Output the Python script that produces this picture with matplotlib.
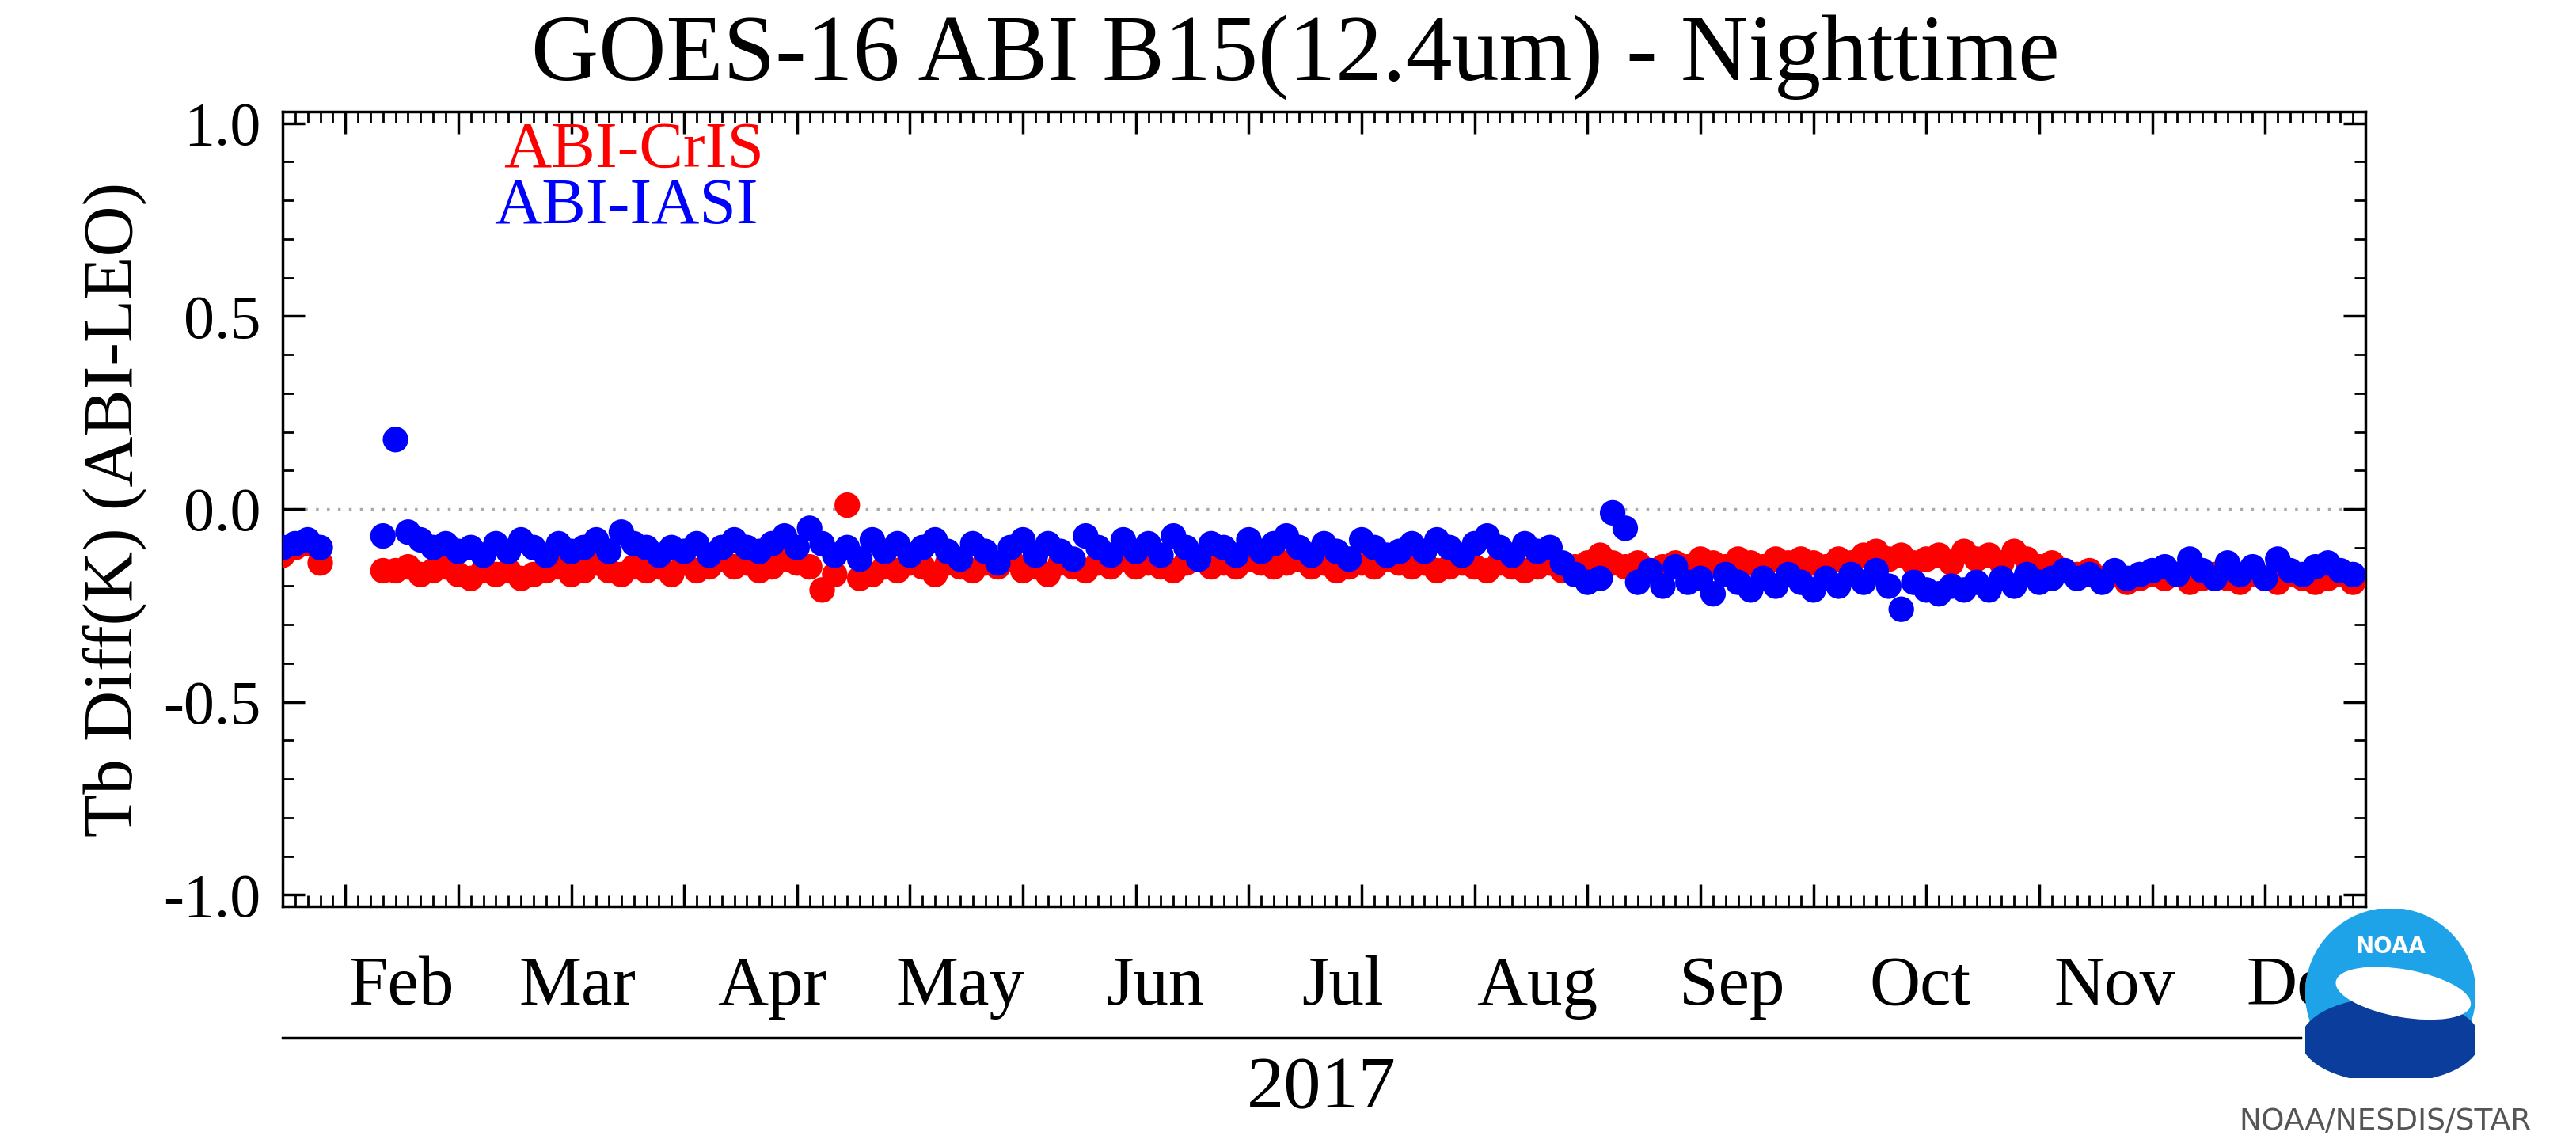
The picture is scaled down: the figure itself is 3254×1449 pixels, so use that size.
import matplotlib.pyplot as plt
import numpy as np
from matplotlib.patches import Circle, Ellipse

nan = np.nan

# day of year of first point, points every 2 days
start_doy = 13
step = 2

cris = [
    -0.12, -0.10, -0.09, -0.14, nan, nan, nan, nan, -0.16, -0.16, -0.15, -0.17, -0.16, -0.15, -0.17,
    -0.18, -0.16, -0.17, -0.16, -0.18, -0.17, -0.16, -0.15, -0.17, -0.16, -0.14, -0.16, -0.17, -0.15, -0.16,
    -0.15, -0.17, -0.14, -0.16, -0.15, -0.13, -0.15, -0.14, -0.16, -0.15, -0.13, -0.14, -0.15, -0.21, -0.17,
    0.01, -0.18, -0.17, -0.15, -0.16, -0.14, -0.15, -0.17, -0.14, -0.15, -0.16, -0.14, -0.15, -0.13, -0.16,
    -0.15, -0.17, -0.14, -0.15, -0.16, -0.14, -0.15, -0.13, -0.15, -0.14, -0.15, -0.16, -0.14, -0.13, -0.15,
    -0.14, -0.15, -0.13, -0.14, -0.15, -0.14, -0.13, -0.15, -0.14, -0.16, -0.15, -0.14, -0.15, -0.13, -0.14,
    -0.15, -0.14, -0.16, -0.15, -0.14, -0.15, -0.16, -0.14, -0.15, -0.16, -0.15, -0.14, -0.16, -0.15, -0.14,
    -0.12, -0.14, -0.15, -0.14, -0.16, -0.15, -0.14, -0.15, -0.13, -0.14, -0.15, -0.13, -0.14, -0.15, -0.13,
    -0.14, -0.13, -0.14, -0.15, -0.13, -0.14, -0.12, -0.11, -0.13, -0.12, -0.14, -0.13, -0.12, -0.14, -0.11,
    -0.13, -0.12, -0.14, -0.11, -0.13, -0.15, -0.14, -0.16, -0.17, -0.16, -0.18, -0.17, -0.19, -0.18, -0.17,
    -0.18, -0.17, -0.19, -0.18, -0.17, -0.18, -0.19, -0.17, -0.18, -0.19, -0.17, -0.18, -0.19, -0.18, -0.17,
    -0.19,
]

iasi = [
    -0.10, -0.09, -0.08, -0.10, nan, nan, nan, nan, -0.07, 0.18, -0.06, -0.08, -0.10, -0.09, -0.11,
    -0.10, -0.12, -0.09, -0.11, -0.08, -0.10, -0.12, -0.09, -0.11, -0.10, -0.08, -0.11, -0.06, -0.09, -0.10,
    -0.12, -0.10, -0.11, -0.09, -0.12, -0.10, -0.08, -0.10, -0.11, -0.09, -0.07, -0.10, -0.05, -0.09, -0.12,
    -0.10, -0.13, -0.08, -0.11, -0.09, -0.12, -0.10, -0.08, -0.11, -0.13, -0.09, -0.11, -0.14, -0.10, -0.08,
    -0.12, -0.09, -0.11, -0.13, -0.07, -0.10, -0.12, -0.08, -0.11, -0.09, -0.12, -0.07, -0.10, -0.13, -0.09,
    -0.10, -0.12, -0.08, -0.11, -0.09, -0.07, -0.10, -0.12, -0.09, -0.11, -0.13, -0.08, -0.10, -0.12, -0.11,
    -0.09, -0.11, -0.08, -0.10, -0.12, -0.09, -0.07, -0.10, -0.12, -0.09, -0.11, -0.10, -0.14, -0.17, -0.19,
    -0.18, -0.01, -0.05, -0.19, -0.16, -0.20, -0.15, -0.19, -0.18, -0.22, -0.17, -0.19, -0.21, -0.18, -0.20,
    -0.17, -0.19, -0.21, -0.18, -0.20, -0.17, -0.19, -0.16, -0.20, -0.26, -0.19, -0.21, -0.22, -0.20, -0.21,
    -0.19, -0.21, -0.18, -0.20, -0.17, -0.19, -0.18, -0.16, -0.18, -0.17, -0.19, -0.16, -0.18, -0.17, -0.16,
    -0.15, -0.17, -0.13, -0.16, -0.18, -0.14, -0.17, -0.15, -0.18, -0.13, -0.16, -0.17, -0.15, -0.14, -0.16,
    -0.17,
]

months = ['Feb', 'Mar', 'Apr', 'May', 'Jun', 'Jul', 'Aug', 'Sep', 'Oct', 'Nov', 'Dec']
month_doy = [32, 60, 91, 121, 152, 182, 213, 244, 274, 305, 335]

days = start_doy + step * np.arange(len(cris))

plt.rcParams['font.family'] = ['Liberation Serif', 'DejaVu Serif']

fig = plt.figure(figsize=(32.54, 14.49), dpi=100)
ax = fig.add_axes([0.1097, 0.2098, 0.8086, 0.6929])

ax.axhline(0, color='#aaaaaa', linestyle=(0, (1, 3)), linewidth=2.5, zorder=1)
ax.scatter(days, cris, s=540, color='#ff0000', edgecolors='none', zorder=3)
ax.scatter(days, iasi, s=540, color='#0000ff', edgecolors='none', zorder=4)

ax.set_xlim(13, 345)
ax.set_ylim(-1.03, 1.03)

ax.set_yticks([-1.0, -0.5, 0.0, 0.5, 1.0])
ax.set_yticklabels(['-1.0', '-0.5', '0.0', '0.5', '1.0'])
ax.set_yticks(np.arange(-1.0, 1.01, 0.1), minor=True)
ax.set_xticks(np.arange(23, 345, 18))
ax.set_xticklabels([])
ax.set_xticks(np.arange(13, 345, 2), minor=True)
ax.tick_params(axis='both', which='major', direction='in', length=20, width=2.5,
               top=True, right=True, labelsize=56, pad=20)
ax.tick_params(axis='both', which='minor', direction='in', length=10, width=2,
               top=True, right=True)
for sp in ax.spines.values():
    sp.set_linewidth(2.5)

for m, d in zip(months, month_doy):
    ax.text(d, -1.24, m, ha='center', va='center', fontsize=64,
            transform=ax.transData, clip_on=False)

ax.set_ylabel('Tb Diff(K) (ABI-LEO)', fontsize=64, labelpad=14)
fig.text(0.503, 0.95, 'GOES-16 ABI B15(12.4um) - Nighttime', ha='center', va='center',
         fontsize=85)
fig.text(0.246, 0.868, 'ABI-CrIS', color='#ff0000', ha='center', va='center', fontsize=60)
fig.text(0.243, 0.819, 'ABI-IASI', color='#0000ff', ha='center', va='center', fontsize=60)

# year line and label
fig.add_artist(plt.Line2D([0.1097, 0.893], [0.095, 0.095], color='black', linewidth=2.5))
fig.text(0.513, 0.05, '2017', ha='center', va='center', fontsize=68)

# NOAA logo
lax = fig.add_axes([0.895, 0.06, 0.066, 0.148])
lax.set_xlim(-1, 1)
lax.set_ylim(-1, 1)
lax.set_aspect('equal')
lax.axis('off')
lax.add_patch(Circle((0, 0), 1, color='#1fa3e8'))
lax.add_patch(Ellipse((0, -0.55), 2.1, 1.0, color='#0a3d9c'))
lax.add_patch(Ellipse((0.15, 0.0), 1.6, 0.55, angle=-10, color='white'))
lax.text(0, 0.55, 'NOAA', ha='center', va='center', color='white', fontsize=20,
         fontweight='bold', family='DejaVu Sans')
fig.text(0.926, 0.022, 'NOAA/NESDIS/STAR', ha='center', va='center', fontsize=27,
         color='#555555', family='DejaVu Sans')

fig.savefig('out.png', dpi=100)
